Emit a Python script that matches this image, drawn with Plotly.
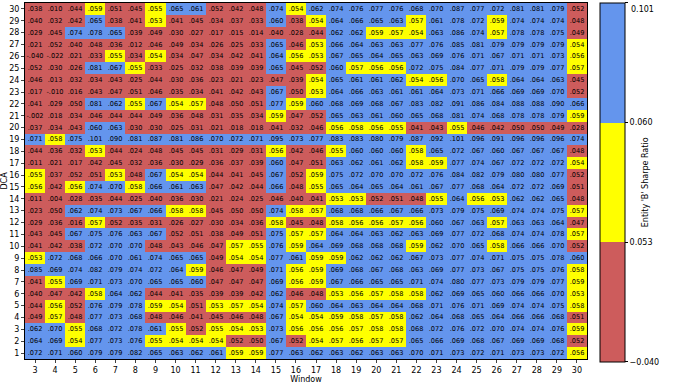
import plotly.graph_objects as go

windows = list(range(3, 31))
dca = list(range(1, 31))

# Rows listed from DCA 30 (top) down to DCA 1 (bottom); columns Window 3..30
row30 = [.038, .010, .044, .059, .051, .045, .055, .065, .061, .052, .042, .048, .074, .054, .062, .074, .076, .077, .076, .068, .070, .087, .077, .072, .081, .081, .079, .052]
row29 = [.040, .032, .042, .065, .038, .041, .053, .041, .045, .034, .037, .033, .060, .038, .054, .064, .066, .065, .063, .057, .061, .078, .072, .059, .074, .074, .074, .048]
row28 = [.029, .045, .074, .078, .065, .039, .049, .030, .027, .017, .015, .014, .040, .028, .044, .062, .062, .059, .057, .054, .063, .086, .074, .057, .078, .078, .075, .049]
row27 = [.021, .052, .040, .048, .036, .012, .046, .049, .034, .026, .025, .033, .065, .046, .053, .066, .064, .063, .063, .077, .076, .085, .081, .079, .079, .079, .079, .054]
row26 = [-.040, -.022, .021, .033, .055, .034, .054, .034, .047, .034, .042, .041, .064, .056, .053, .067, .065, .064, .065, .063, .069, .076, .071, .067, .071, .071, .073, .056]
row25 = [.052, .030, .026, .081, .067, .055, .033, .025, .032, .038, .039, .039, .065, .045, .052, .060, .057, .056, .056, .072, .075, .084, .077, .071, .079, .079, .077, .057]
row24 = [.046, .013, .032, .034, .043, .025, .044, .030, .036, .023, .021, .023, .047, .039, .054, .065, .061, .061, .062, .054, .056, .070, .065, .058, .064, .064, .063, .045]
row23 = [.017, -.010, .016, .043, .047, .051, .046, .035, .034, .041, .042, .043, .067, .050, .053, .064, .066, .063, .061, .061, .064, .073, .071, .066, .069, .069, .070, .052]
row22 = [.041, .029, .050, .081, .062, .055, .067, .054, .057, .048, .050, .051, .077, .059, .060, .068, .069, .068, .067, .083, .082, .091, .086, .084, .088, .088, .090, .066]
row21 = [-.002, .018, .034, .046, .044, .044, .049, .036, .048, .031, .035, .034, .059, .047, .052, .065, .063, .061, .060, .065, .068, .081, .074, .068, .078, .078, .079, .059]
row20 = [.037, .034, .043, .060, .063, .030, .030, .025, .031, .021, .018, .018, .041, .032, .046, .056, .058, .056, .055, .041, .043, .055, .046, .042, .050, .050, .049, .028]
row19 = [.071, .058, .075, .101, .090, .081, .087, .081, .086, .070, .072, .071, .095, .073, .077, .083, .083, .080, .079, .087, .092, .101, .096, .091, .096, .096, .096, .074]
row18 = [.044, .036, .032, .053, .044, .024, .048, .045, .045, .031, .029, .031, .056, .042, .046, .055, .060, .060, .060, .058, .065, .072, .067, .060, .067, .067, .067, .048]
row17 = [.011, .021, .017, .042, .045, .032, .036, .030, .029, .036, .037, .039, .060, .047, .051, .063, .062, .061, .062, .058, .059, .077, .074, .067, .072, .072, .072, .054]
row16 = [.055, .037, .052, .051, .053, .048, .067, .054, .054, .044, .041, .045, .067, .052, .059, .075, .072, .070, .070, .072, .076, .084, .082, .079, .080, .080, .077, .052]
row15 = [.056, .042, .056, .074, .070, .058, .066, .061, .063, .047, .042, .044, .066, .048, .055, .065, .064, .065, .064, .061, .067, .077, .068, .064, .072, .072, .069, .051]
row14 = [.011, .004, .028, .035, .044, .025, .040, .036, .030, .021, .024, .025, .046, .040, .041, .053, .053, .052, .051, .048, .055, .064, .056, .053, .062, .062, .065, .048]
row13 = [.023, .050, .062, .074, .073, .067, .066, .058, .058, .045, .050, .050, .074, .058, .057, .068, .068, .066, .067, .066, .073, .079, .075, .069, .074, .074, .075, .057]
row12 = [.029, .036, .016, .057, .052, .035, .031, .026, .027, .030, .034, .036, .058, .045, .048, .058, .056, .056, .057, .056, .060, .067, .063, .057, .063, .063, .064, .047]
row11 = [.043, .045, .067, .075, .076, .063, .067, .052, .051, .038, .049, .051, .075, .057, .057, .064, .064, .063, .062, .063, .069, .077, .072, .068, .074, .074, .078, .057]
row10 = [.041, .042, .038, .072, .070, .070, .048, .043, .046, .047, .057, .055, .076, .059, .064, .069, .068, .068, .068, .059, .062, .070, .065, .058, .066, .066, .070, .052]
row9 = [.053, .072, .068, .066, .070, .061, .074, .065, .065, .049, .054, .054, .077, .061, .059, .059, .062, .062, .062, .067, .073, .077, .074, .071, .075, .075, .078, .060]
row8 = [.085, .069, .074, .082, .079, .074, .072, .064, .059, .046, .047, .049, .071, .056, .059, .069, .068, .067, .068, .063, .069, .077, .073, .067, .075, .075, .076, .058]
row7 = [.041, .055, .069, .071, .073, .070, .065, .065, .060, .047, .047, .047, .069, .056, .059, .067, .066, .065, .065, .071, .074, .080, .077, .073, .079, .079, .077, .059]
row6 = [.040, .047, .042, .058, .064, .062, .044, .041, .035, .039, .039, .042, .062, .046, .048, .053, .056, .057, .058, .058, .062, .069, .065, .060, .066, .066, .070, .053]
row5 = [.044, .056, .052, .076, .079, .078, .059, .054, .051, .053, .057, .054, .074, .057, .060, .064, .063, .064, .064, .068, .071, .076, .071, .069, .074, .074, .075, .058]
row4 = [.049, .057, .048, .077, .073, .068, .048, .046, .041, .045, .046, .048, .067, .054, .054, .059, .058, .057, .058, .062, .064, .068, .065, .064, .066, .066, .068, .051]
row3 = [.062, .070, .055, .068, .072, .078, .061, .055, .052, .055, .054, .053, .073, .056, .056, .056, .057, .058, .058, .068, .072, .076, .072, .070, .074, .074, .076, .059]
row2 = [.064, .069, .054, .077, .073, .076, .055, .054, .054, .054, .052, .050, .067, .052, .054, .057, .056, .057, .057, .065, .066, .069, .068, .067, .069, .069, .068, .052]
row1 = [.072, .071, .060, .079, .079, .082, .065, .063, .062, .061, .059, .059, .077, .063, .062, .063, .062, .063, .063, .070, .071, .073, .072, .071, .073, .073, .072, .056]

values = [row1, row2, row3, row4, row5, row6, row7, row8, row9, row10,
          row11, row12, row13, row14, row15, row16, row17, row18, row19, row20,
          row21, row22, row23, row24, row25, row26, row27, row28, row29, row30]

boundaries = [-0.040, 0.053, 0.060, 0.101]
bound_labels = ["−0.040", "0.053", "0.060", "0.101"]
colors = ["#CD5C5C", "#FFFF00", "#6495ED"]


def band(v):
    m = round(v * 1000)
    if m < 53:
        return 0.5
    if m < 60:
        return 1.5
    return 2.5


def fmt(v):
    s = f"{v:.3f}"
    return s.replace("0.", ".", 1)


z = [[band(v) for v in r] for r in values]
text = [[fmt(v) for v in r] for r in values]

colorscale = [[0, colors[0]], [1/3, colors[0]], [1/3, colors[1]], [2/3, colors[1]],
              [2/3, colors[2]], [1, colors[2]]]

fig = go.Figure(go.Heatmap(
    x=windows, y=dca, z=z, text=text, texttemplate="%{text}",
    textfont=dict(size=6.6, color="black", family="DejaVu Sans"),
    colorscale=colorscale, zmin=0, zmax=3, hoverinfo="skip",
    colorbar=dict(
        tickvals=[0.001, 1, 2, 2.999], ticktext=bound_labels[:3] + [""],
        xref="container", x=600/685, xanchor="left", xpad=0,
        thickness=25, thicknessmode="pixels",
        y=-0.008, yanchor="bottom", len=1.008, lenmode="fraction", ypad=0,
        outlinewidth=1, outlinecolor="black",
        ticks="outside", ticklen=3, tickcolor="black",
        tickfont=dict(size=8, family="DejaVu Sans", color="black"),
        title=dict(text="Entity 'B' Sharpe Ratio", side="right",
                   font=dict(size=8, family="DejaVu Sans", color="black")),
    ),
))

fig.update_layout(
    width=685, height=384,
    margin=dict(l=23, r=98, t=2, b=22),
    paper_bgcolor="white", plot_bgcolor="white",
    font=dict(family="DejaVu Sans", size=8, color="black"),
    annotations=[dict(
        text=bound_labels[3], xref="paper", yref="paper",
        x=(629 - 23) / 564, y=1.0, xanchor="left", yanchor="top",
        showarrow=False, font=dict(size=8, family="DejaVu Sans", color="black"),
    )],
)
fig.update_xaxes(
    title=dict(text="Window", standoff=2, font=dict(size=8)),
    tickmode="array", tickvals=windows, ticktext=[str(w) for w in windows],
    ticks="outside", ticklen=3, tickfont=dict(size=8),
    showline=True, linecolor="black", linewidth=1, mirror=True,
    showgrid=False, zeroline=False, range=[2.5, 30.5],
)
fig.update_yaxes(
    title=dict(text="DCA", standoff=2, font=dict(size=8)),
    tickmode="array", tickvals=dca, ticktext=[str(d) for d in dca],
    ticks="outside", ticklen=3, tickfont=dict(size=8),
    showline=True, linecolor="black", linewidth=1, mirror=True,
    showgrid=False, zeroline=False, range=[0.5, 30.5],
)

fig.write_html("out.html")
